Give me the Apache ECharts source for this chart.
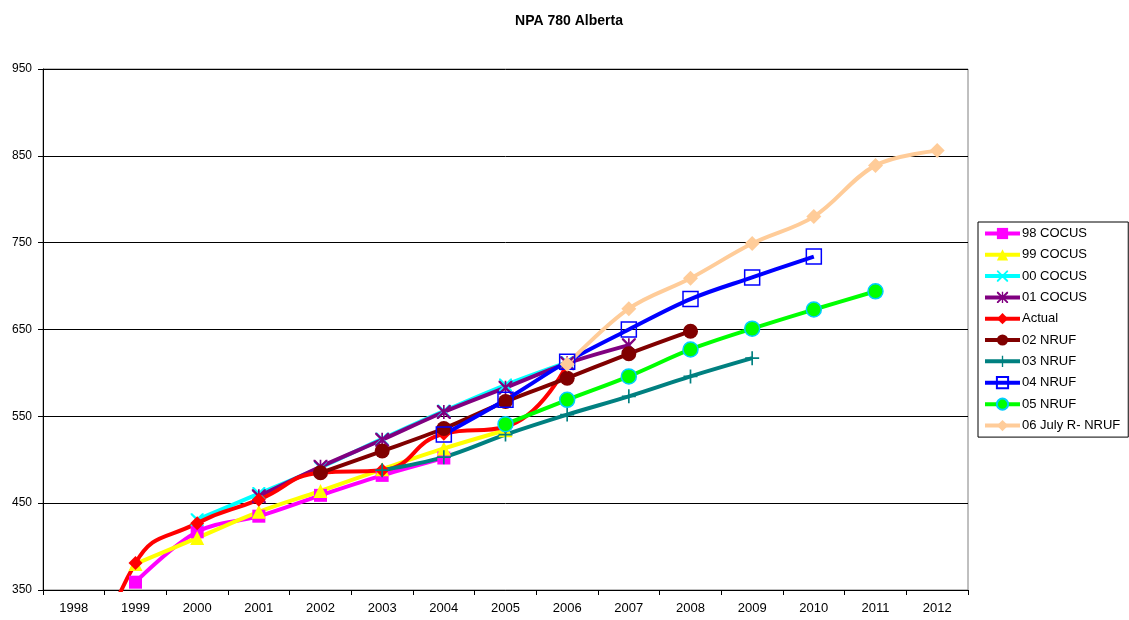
<!DOCTYPE html>
<html>
<head>
<meta charset="utf-8">
<script src="https://cdn.jsdelivr.net/npm/echarts@6/dist/echarts.min.js"></script>
<style>
  html, body { margin: 0; padding: 0; background: #fff; }
  #chart { width: 1129px; height: 620px; }
</style>
</head>
<body>
<div id="chart"></div>
<script>
// years on the x axis
const years = ['1998', '1999', '2000', '2001', '2002', '2003', '2004', '2005',
  '2006', '2007', '2008', '2009', '2010', '2011', '2012']

// forecasts / actuals, null where a series has no value
const cocus98 = [null, 359, 417, 435, 459, 482, 502, null, null, null, null, null, null, null, null]
const cocus99 = [null, 380, 410, 440, 464, 489, 513, 534, null, null, null, null, null, null, null]
const cocus00 = [null, null, 431, 461, 491, 524, 556, 586, 612, null, null, null, null, null, null]
const cocus01 = [null, null, null, 458, 492, 523, 555, 583, 611, 632, null, null, null, null, null]
const actual = [180, 381, 427, 454, 485, 488, 530, 538, 610, null, null, null, null, null, null]
const nruf02 = [null, null, null, null, 485, 510, 536, 567, 594, 622, 648, null, null, null, null]
const nruf03 = [null, null, null, null, null, 488, 503, 529, 552, 573, 596, 617, null, null, null]
const nruf04 = [null, null, null, null, null, null, 529, 569, 613, 650, 685, 710, 734, null, null]
const nruf05 = [null, null, null, null, null, null, null, 541, 569, 596, 627, 651, 673, 694, null]
const nruf06 = [null, null, null, null, null, null, null, null, 610, 674, 709, 749, 780, 839, 856]

const yTicks = [350, 450, 550, 650, 750, 850, 950]

// thin marker shapes (x, asterisk, plus)
const xMark = 'path://M0,0 L1.2,0 L5,3.8 L8.8,0 L10,0 L10,1.2 L6.2,5 L10,8.8 L10,10 L8.8,10 L5,6.2 L1.2,10 L0,10 L0,8.8 L3.8,5 L0,1.2 Z'
const starMark = xMark + ' M4.4,0 L5.6,0 L5.6,10 L4.4,10 Z'
const plusMark = 'path://M4.4,0 H5.6 V4.4 H10 V5.6 H5.6 V10 H4.4 V5.6 H0 V4.4 H4.4 Z'

const mk = (name, data, color, symbol, size, extra) => Object.assign({
  name: name,
  type: 'line',
  data: data,
  smooth: 0.35,
  connectNulls: false,
  symbol: symbol,
  symbolSize: size,
  lineStyle: { color: color, width: 4 },
  itemStyle: { color: color },
}, extra || {})

const chart = echarts.init(document.getElementById('chart'))
chart.setOption({
  animation: false,
  textStyle: { fontFamily: 'Liberation Sans, Arial, sans-serif' },
  title: {
    text: 'NPA 780 Alberta',
    left: 564,
    textAlign: 'center',
    top: 9,
    textStyle: { fontSize: 14, fontWeight: 'bold', color: '#000' },
  },
  legend: {
    orient: 'vertical',
    left: 978,
    top: 222,
    width: 149,
    padding: [5, 8, 5, 5],
    itemWidth: 35,
    itemHeight: 14,
    itemGap: 8.3,
    borderColor: '#000',
    borderWidth: 1,
    lineStyle: { width: 4 },
    textStyle: { fontSize: 13, color: '#000', padding: [0, 0, 0, -3] },
    data: ['98 COCUS', '99 COCUS', '00 COCUS', '01 COCUS', 'Actual',
      '02 NRUF', '03 NRUF', '04 NRUF', '05 NRUF', '06 July R- NRUF'],
  },
  grid: {
    left: 43, right: 161, top: 69, bottom: 30,
    show: true, borderColor: '#808080', borderWidth: 1,
  },
  xAxis: {
    type: 'category',
    data: years,
    boundaryGap: true,
    axisLine: { lineStyle: { color: '#000' } },
    axisTick: { show: true, length: 5, lineStyle: { color: '#000' } },
    axisLabel: { color: '#000', fontSize: 13, margin: 12 },
  },
  yAxis: {
    type: 'value',
    min: 350,
    max: 950,
    interval: 100,
    axisLine: { show: true, lineStyle: { color: '#000' } },
    axisTick: { show: true, length: 5, lineStyle: { color: '#000' } },
    axisLabel: { color: '#000', fontSize: 12, margin: 11,
      formatter: (v) => (yTicks.indexOf(v) >= 0 ? String(v) : '') },
    splitLine: { lineStyle: { color: '#000', width: 1 } },
  },
  series: [
    mk('98 COCUS', cocus98, '#FF00FF', 'rect', 13),
    mk('99 COCUS', cocus99, '#FFFF00', 'triangle', 14),
    mk('00 COCUS', cocus00, '#00FFFF', xMark, 13),
    mk('01 COCUS', cocus01, '#800080', starMark, 14),
    mk('Actual', actual, '#FF0000', 'diamond', 14, { smooth: 0.5 }),
    mk('02 NRUF', nruf02, '#800000', 'circle', 15),
    mk('03 NRUF', nruf03, '#008080', plusMark, 14),
    mk('04 NRUF', nruf04, '#0000FF', 'rect', 15, {
      itemStyle: { color: 'rgba(255,255,255,0)', borderColor: '#0000FF', borderWidth: 1.5 },
    }),
    mk('05 NRUF', nruf05, '#00FF00', 'circle', 15, {
      itemStyle: { color: '#00FF00', borderColor: '#00CCFF', borderWidth: 1.5 },
    }),
    mk('06 July R- NRUF', nruf06, '#FFCC99', 'diamond', 15),
  ],
})
</script>
</body>
</html>
